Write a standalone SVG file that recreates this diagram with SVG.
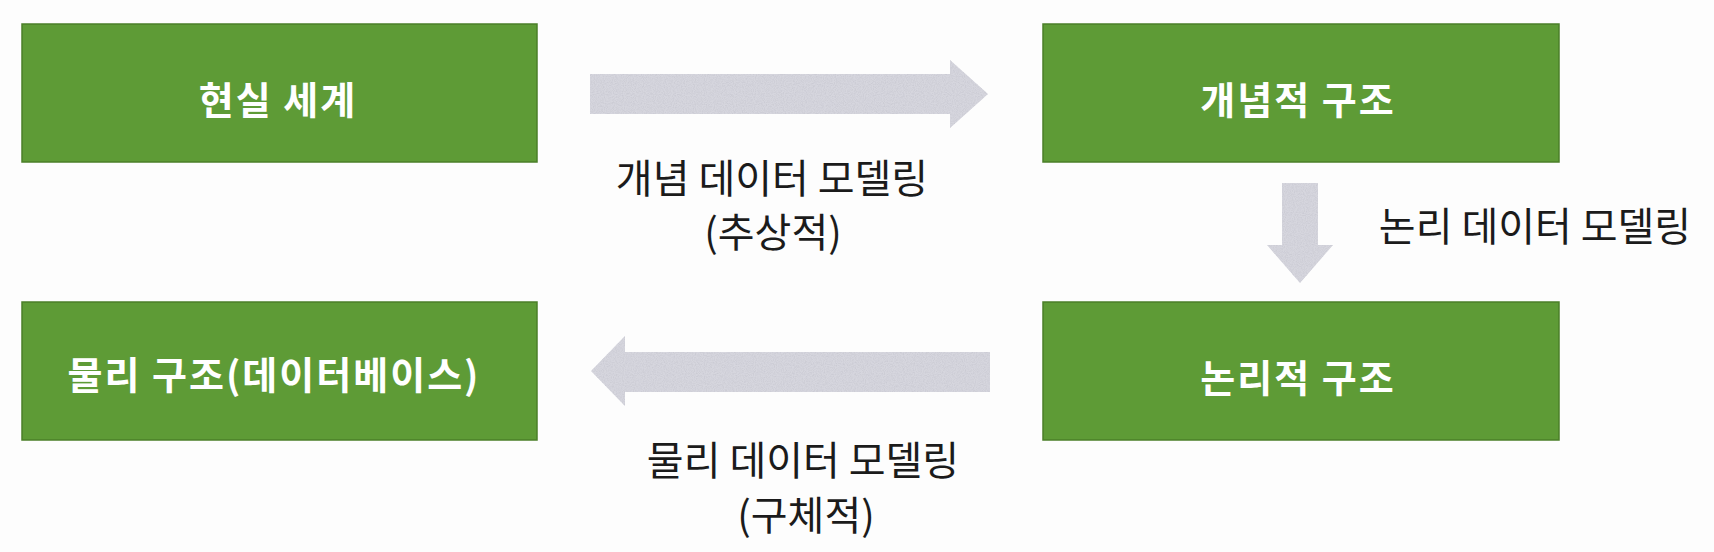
<svg xmlns="http://www.w3.org/2000/svg" width="1714" height="552" viewBox="0 0 1714 552">
  <style>
    .box { fill: #5e9b36; stroke: #4b7f29; stroke-width: 1.5; }
    .boxtext { font-family: "Noto Sans CJK KR", "Noto Sans", sans-serif; font-weight: 700; font-size: 38px; letter-spacing: 2px; fill: #ffffff; text-anchor: middle; dominant-baseline: central; }
    .arrow { fill: #d6d6de; filter: url(#speckle); }
    .label { font-family: "Noto Sans CJK KR", "Noto Sans", sans-serif; font-weight: 400; font-size: 40px; fill: #1b1b1b; text-anchor: middle; dominant-baseline: central; }
  </style>
  <defs>
    <filter id="speckle" x="0" y="0" width="100%" height="100%">
      <feTurbulence type="fractalNoise" baseFrequency="0.9" numOctaves="2" seed="4" result="noise"/>
      <feColorMatrix in="noise" type="matrix" values="0 0 0 0 0.6  0 0 0 0 0.6  0 0 0 0 0.66  2.4 0 0 0 -0.9" result="dots"/>
      <feComposite in="dots" in2="SourceGraphic" operator="in" result="dotsIn"/>
      <feMerge>
        <feMergeNode in="SourceGraphic"/>
        <feMergeNode in="dotsIn"/>
      </feMerge>
    </filter>
  </defs>
  <rect x="0" y="0" width="1714" height="552" fill="#fdfdfd"/>

  <g id="node-real-world">
    <rect class="box" x="22" y="24" width="515" height="138"/>
    <text class="boxtext" x="278" y="97">현실 세계</text>
  </g>
  <g id="node-conceptual">
    <rect class="box" x="1043" y="24" width="516" height="138"/>
    <text class="boxtext" x="1298" y="97">개념적 구조</text>
  </g>
  <g id="node-logical">
    <rect class="box" x="1043" y="302" width="516" height="138"/>
    <text class="boxtext" x="1298" y="375">논리적 구조</text>
  </g>
  <g id="node-physical">
    <rect class="box" x="22" y="302" width="515" height="138"/>
    <text class="boxtext" x="274" y="372">물리 구조(데이터베이스)</text>
  </g>

  <g id="connectors">
    <polygon class="arrow" points="590,74 950,74 950,60 988,94 950,128 950,114 590,114"/>
    <polygon class="arrow" points="1282,183 1318,183 1318,245 1333,245 1300,283 1267,245 1282,245"/>
    <polygon class="arrow" points="990,352 625,352 625,336 591,371 625,406 625,392 990,392"/>
  </g>

  <g id="connector-labels">
    <text class="label" x="772" y="176">개념 데이터 모델링</text>
    <text class="label" x="773" y="230">(추상적)</text>
    <text class="label" x="1535" y="224">논리 데이터 모델링</text>
    <text class="label" x="803" y="458">물리 데이터 모델링</text>
    <text class="label" x="806" y="513">(구체적)</text>
  </g>
</svg>
